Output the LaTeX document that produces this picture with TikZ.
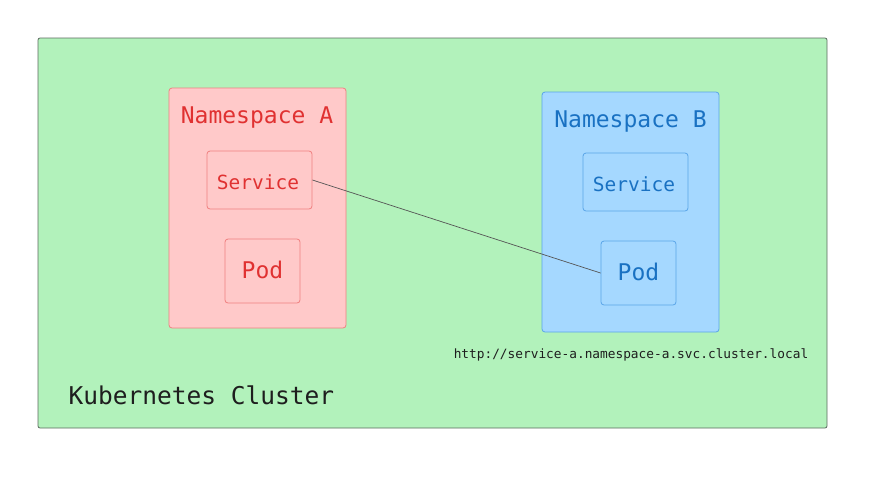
\documentclass[tikz,border=0pt]{standalone}
\usepackage{fontspec}
\newfontfamily\mono{DejaVu Sans Mono}
\definecolor{clfill}{HTML}{B2F2BB}
\definecolor{clline}{HTML}{5C6B60}
\definecolor{afill}{HTML}{FFC9C9}
\definecolor{aline}{HTML}{F08080}
\definecolor{atext}{HTML}{E03131}
\definecolor{bfill}{HTML}{A5D8FF}
\definecolor{bline}{HTML}{5AA5E8}
\definecolor{btext}{HTML}{1971C2}
\definecolor{dark}{HTML}{1E1E1E}
\definecolor{conn}{HTML}{555555}
\begin{document}
\begin{tikzpicture}[x=1pt,y=-1pt,
  box/.style={draw, rounded corners=3pt, line width=0.8pt, inner sep=0pt},
  abox/.style={box, fill=afill, draw=aline},
  bbox/.style={box, fill=bfill, draw=bline},
  lbl/.style={font=\mono, inner sep=0pt, anchor=center}]
\useasboundingbox (0,0) rectangle (894,483);
\fill[white] (0,0) rectangle (894,483);
% cluster
\node[box, fill=clfill, draw=clline, rounded corners=2pt, minimum width=789pt, minimum height=390pt] (cluster) at (432.5,233) {};
\node[lbl, text=dark, font=\mono\fontsize{24.5}{28}\selectfont] (cltext) at (201.5,395) {Kubernetes Cluster};
% namespace A
\node[abox, minimum width=177pt, minimum height=240pt] (nsA) at (257.5,208) {};
\node[lbl, text=atext, font=\mono\fontsize{23}{26}\selectfont] (nsAt) at (257,117.5) {Namespace A};
\node[abox, minimum width=105pt, minimum height=58pt] (svcA) at (259.5,180) {};
\node[lbl, text=atext, font=\mono\fontsize{19.5}{22}\selectfont] (svcAt) at (258,182) {Service};
\node[abox, minimum width=75pt, minimum height=64pt] (podA) at (262.5,271) {};
\node[lbl, text=atext, font=\mono\fontsize{23}{26}\selectfont] (podAt) at (262.5,270) {Pod};
% namespace B
\node[bbox, minimum width=177pt, minimum height=240pt] (nsB) at (630.5,212) {};
\node[lbl, text=btext, font=\mono\fontsize{23}{26}\selectfont] (nsBt) at (630.5,121.5) {Namespace B};
\node[bbox, minimum width=105pt, minimum height=58pt] (svcB) at (635.5,182) {};
\node[lbl, text=btext, font=\mono\fontsize{19.5}{22}\selectfont] (svcBt) at (634,184) {Service};
\node[bbox, minimum width=75pt, minimum height=64pt] (podB) at (638.5,273) {};
\node[lbl, text=btext, font=\mono\fontsize{23}{26}\selectfont] (podBt) at (638.5,272) {Pod};
% url
\node[lbl, text=dark, font=\mono\fontsize{12.8}{15}\selectfont] (url) at (631,354.5) {http://service-a.namespace-a.svc.cluster.local};
% connector
\draw[conn, line width=0.7pt] (svcA.east) -- (podB.west);
\end{tikzpicture}
\end{document}
